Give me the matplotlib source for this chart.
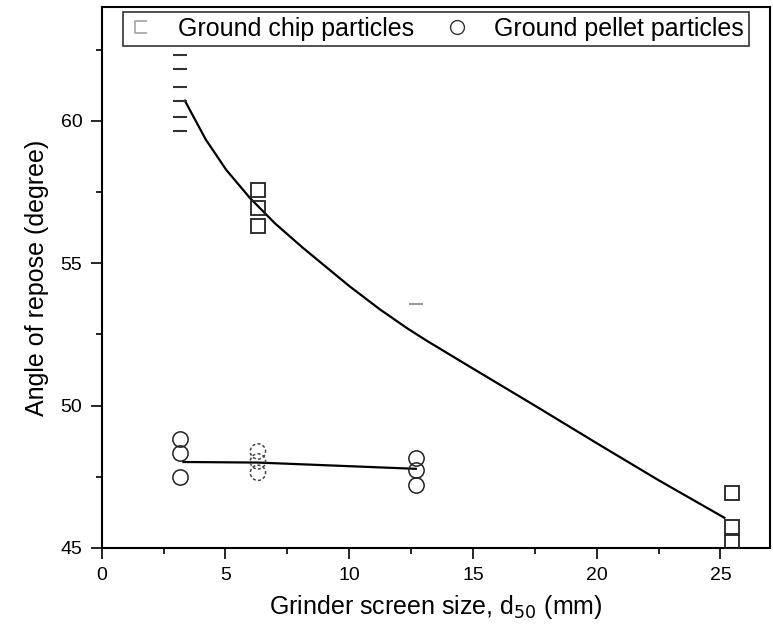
import numpy as np
import matplotlib
matplotlib.use("Agg")
import matplotlib.pyplot as plt
from matplotlib.path import Path
from matplotlib.lines import Line2D
from matplotlib.ticker import MultipleLocator

plt.rcParams['font.family'] = ['Liberation Sans', 'DejaVu Sans']

# ground chip particles (angle of repose, degree)
chip_x_small = [3.16, 3.16, 3.16]
chip_y_small = [62.07, 60.95, 59.89]
chip_x = [6.31, 6.31, 6.31, 25.45, 25.45, 25.45]
chip_y = [57.58, 56.95, 56.31, 46.94, 45.74, 45.22]
chip_x_mid = [12.69]
chip_y_mid = [53.57]

# fitted curve for chip particles
chip_fit_x = [3.36, 4.2, 5.03, 5.99, 7.0, 8.13, 10.0, 11.24, 12.37, 13.13,
              15.0, 17.5, 20.0, 22.5, 25.16]
chip_fit_y = [60.71, 59.35, 58.28, 57.29, 56.4, 55.54, 54.2, 53.38, 52.7, 52.28,
              51.3, 50.0, 48.68, 47.38, 46.06]

# ground pellet particles
pellet_x = [3.16, 3.16, 3.16, 12.69, 12.69, 12.69]
pellet_y = [48.82, 48.34, 47.51, 48.17, 47.75, 47.22]
pellet_x_mid = [6.31, 6.31, 6.31]
pellet_y_mid = [48.39, 48.04, 47.64]
pellet_fit_x = [3.3, 6.31, 12.69]
pellet_fit_y = [48.02, 48.0, 47.78]

# marker shapes: squares drawn with only top/bottom edges, and legend glyph
two_bars = Path([(-0.5, 0.5), (0.5, 0.5), (-0.5, -0.5), (0.5, -0.5)],
                [Path.MOVETO, Path.LINETO, Path.MOVETO, Path.LINETO])
open_box = Path([(0.5, 0.5), (-0.5, 0.5), (-0.5, -0.5), (0.5, -0.5)],
                [Path.MOVETO, Path.LINETO, Path.LINETO, Path.LINETO])

fig = plt.figure(figsize=(7.73, 6.36), dpi=100)
ax = fig.add_axes([0.1316, 0.1384, 0.8645, 0.8506])

ax.plot(chip_fit_x, chip_fit_y, color='black', lw=1.6, zorder=2)
ax.plot(pellet_fit_x, pellet_fit_y, color='black', lw=1.6, zorder=2)

ax.plot(chip_x_small, chip_y_small, ls='none', marker=two_bars, ms=10,
        mec='#333333', mew=1.5, zorder=3)
ax.plot(chip_x, chip_y, ls='none', marker='s', ms=10, mfc='none',
        mec='#222222', mew=1.3, zorder=3)
ax.plot(chip_x_mid, chip_y_mid, ls='none', marker='_', ms=10,
        mec='#999999', mew=1.5, zorder=3)

ax.plot(pellet_x, pellet_y, ls='none', marker='o', ms=11, mfc='none',
        mec='#222222', mew=1.1, zorder=3)
ax.scatter(pellet_x_mid, pellet_y_mid, s=121, facecolors='none',
           edgecolors='#444444', linewidths=1.1, linestyles=(0, (2, 1.5)), zorder=3)

ax.set_xlim(0, 27)
ax.set_ylim(45, 64)
ax.xaxis.set_major_locator(MultipleLocator(5))
ax.xaxis.set_minor_locator(MultipleLocator(2.5))
ax.yaxis.set_major_locator(MultipleLocator(5))
ax.yaxis.set_minor_locator(MultipleLocator(2.5))
ax.tick_params(which='major', direction='out', length=8, width=1.2,
               labelsize=14, pad=6)
ax.tick_params(which='minor', direction='out', length=4.5, width=1.2)
for sp in ax.spines.values():
    sp.set_linewidth(1.5)

ax.set_xlabel('Grinder screen size, d$_{50}$ (mm)', fontsize=18, labelpad=6)
ax.set_ylabel('Angle of repose (degree)', fontsize=18, labelpad=8)

handles = [
    Line2D([0], [0], ls='none', marker=open_box, ms=9, mfc='none',
           mec='#aaaaaa', mew=1.3),
    Line2D([0], [0], ls='none', marker='o', ms=10, mfc='none', mec='#333333', mew=1.0),
]
leg = ax.legend(handles, ['Ground chip particles', 'Ground pellet particles'],
                ncol=2, loc='upper left', bbox_to_anchor=(0.032, 0.991),
                borderaxespad=0, fontsize=18, frameon=True, fancybox=False,
                edgecolor='black', handlelength=1.0, handletextpad=1.0,
                columnspacing=1.2, borderpad=0.2)
leg.get_frame().set_linewidth(1.2)

fig.savefig('out.png', dpi=100)
